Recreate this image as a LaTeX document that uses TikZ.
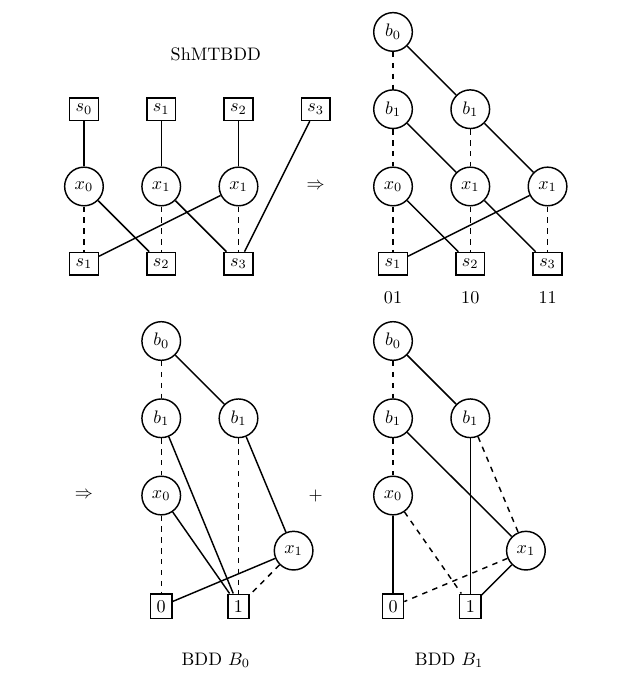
\documentclass[tikz,border=0pt]{standalone}
\usepackage{mathtools, amssymb}
\usepackage{tikz}

\begin{document}
\begin{tikzpicture}[thick,
  var/.style={draw,circle,minimum size=0.75cm,inner sep=0pt},
  leaf/.style={draw,rectangle}]
\useasboundingbox (-1.63,0.62) rectangle (10.54,-12.62);

% shared MTBDD
\node (title) at (2.56,-0.43) {ShMTBDD};
\node[leaf] (s0) at (0,-1.5) {$s_0$};
\node[leaf] (s1) at (1.5,-1.5) {$s_1$};
\node[leaf] (s2) at (3,-1.5) {$s_2$};
\node[leaf] (s3) at (4.5,-1.5) {$s_3$};
\node[var] (x0) at (0,-3) {$x_0$};
\node[var] (x1a) at (1.5,-3) {$x_1$};
\node[var] (x1b) at (3,-3) {$x_1$};
\node[leaf] (t1) at (0,-4.5) {$s_1$};
\node[leaf] (t2) at (1.5,-4.5) {$s_2$};
\node[leaf] (t3) at (3,-4.5) {$s_3$};
\draw (s0) -- (x0);
\draw (s1) -- (x1a);
\draw (s2) -- (x1b);
\draw (s3) -- (t3);
\draw[dashed] (x0) -- (t1);
\draw (x0) -- (t2);
\draw[dashed] (x1a) -- (t2);
\draw (x1a) -- (t3);
\draw[dashed] (x1b) -- (t3);
\draw (x1b) -- (t1);

\node (imp1) at (4.5,-3) {$\Rightarrow$};

% encoded roots
\node[var] (pb0) at (6,0) {$b_0$};
\node[var] (pb1a) at (6,-1.5) {$b_1$};
\node[var] (pb1b) at (7.5,-1.5) {$b_1$};
\node[var] (px0) at (6,-3) {$x_0$};
\node[var] (px1a) at (7.5,-3) {$x_1$};
\node[var] (px1b) at (9,-3) {$x_1$};
\node[leaf] (ps1) at (6,-4.5) {$s_1$};
\node[leaf] (ps2) at (7.5,-4.5) {$s_2$};
\node[leaf] (ps3) at (9,-4.5) {$s_3$};
\node (c01) at (6,-5.15) {01};
\node (c10) at (7.5,-5.15) {10};
\node (c11) at (9,-5.15) {11};
\draw[dashed] (pb0) -- (pb1a);
\draw (pb0) -- (pb1b);
\draw[dashed] (pb1a) -- (px0);
\draw (pb1a) -- (px1a);
\draw[dashed] (pb1b) -- (px1a);
\draw (pb1b) -- (px1b);
\draw[dashed] (px0) -- (ps1);
\draw (px0) -- (ps2);
\draw[dashed] (px1a) -- (ps2);
\draw (px1a) -- (ps3);
\draw[dashed] (px1b) -- (ps3);
\draw (px1b) -- (ps1);

\node (imp2) at (0,-9) {$\Rightarrow$};
\node (plus) at (4.5,-9) {$+$};

% BDD B_0
\node[var] (qb0) at (1.5,-6) {$b_0$};
\node[var] (qb1a) at (1.5,-7.5) {$b_1$};
\node[var] (qb1b) at (3,-7.5) {$b_1$};
\node[var] (qx0) at (1.5,-9) {$x_0$};
\node[var] (qx1) at (4.07,-10.07) {$x_1$};
\node[leaf] (q0) at (1.5,-11.15) {0};
\node[leaf] (q1) at (3,-11.15) {1};
\node (nb0) at (2.56,-12.2) {BDD $B_0$};
\draw[dashed] (qb0) -- (qb1a);
\draw (qb0) -- (qb1b);
\draw[dashed] (qb1a) -- (qx0);
\draw (qb1a) -- (q1);
\draw[dashed] (qb1b) -- (q1);
\draw (qb1b) -- (qx1);
\draw[dashed] (qx0) -- (q0);
\draw (qx0) -- (q1);
\draw[dashed] (qx1) -- (q1);
\draw (qx1) -- (q0);

% BDD B_1
\node[var] (rb0) at (6,-6) {$b_0$};
\node[var] (rb1a) at (6,-7.5) {$b_1$};
\node[var] (rb1b) at (7.5,-7.5) {$b_1$};
\node[var] (rx0) at (6,-9) {$x_0$};
\node[var] (rx1) at (8.58,-10.07) {$x_1$};
\node[leaf] (r0) at (6,-11.15) {0};
\node[leaf] (r1) at (7.5,-11.15) {1};
\node (nb1) at (7.09,-12.2) {BDD $B_1$};
\draw[dashed] (rb0) -- (rb1a);
\draw (rb0) -- (rb1b);
\draw[dashed] (rb1a) -- (rx0);
\draw (rb1a) -- (rx1);
\draw (rb1b) -- (r1);
\draw[dashed] (rb1b) -- (rx1);
\draw (rx0) -- (r0);
\draw[dashed] (rx0) -- (r1);
\draw (rx1) -- (r1);
\draw[dashed] (rx1) -- (r0);
\end{tikzpicture}
\end{document}
